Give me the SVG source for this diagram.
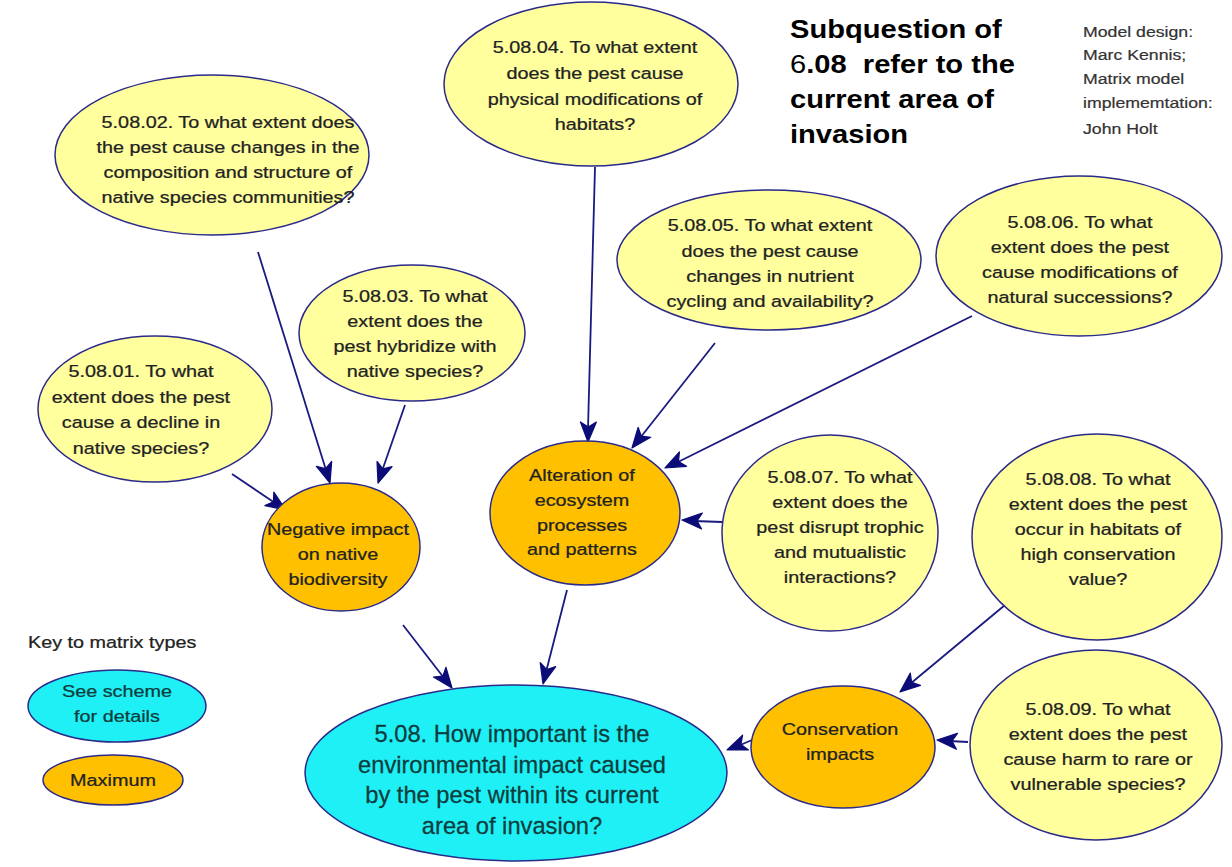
<svg xmlns="http://www.w3.org/2000/svg" width="1232" height="867" viewBox="0 0 1232 867">
<style>
.y{fill:#FFFF9E;stroke:#2a2a8a;stroke-width:1.5}
.o{fill:#FFC000;stroke:#2a2a8a;stroke-width:1.5}
.c{fill:#1FF0F5;stroke:#2a2a8a;stroke-width:1.5}
text{font-family:"Liberation Sans",Arial,sans-serif;font-size:16.5px;fill:#222;stroke:#222;stroke-width:0.25;text-anchor:middle;transform-box:fill-box;transform-origin:center;transform:scaleX(1.2)}
.m text{font-size:23px;fill:#0d3c3c;stroke:#0d3c3c;transform:scaleX(1.03)}
.k{fill:#0d3c3c;stroke:#0d3c3c}
.l{text-anchor:start;transform-origin:left}
.e{stroke:#1a1a80;stroke-width:1.8;fill:none}
polygon.h{fill:#0c0c78;stroke:#0c0c78;stroke-width:1.2;stroke-linejoin:round}
.t{font-size:26px;font-weight:bold;text-anchor:start;fill:#000;stroke:none;transform-origin:left;transform:scaleX(1.12)}
.d{font-size:15px;text-anchor:start;fill:#333;stroke:#333;stroke-width:0.2;transform-origin:left;transform:scaleX(1.18)}
</style>
<rect width="1232" height="867" fill="#fff"/>
<g id="connectors">
<line class="e" x1="258" y1="252" x2="326" y2="470"/>
<line class="e" x1="405" y1="405" x2="382" y2="471"/>
<line class="e" x1="232" y1="474" x2="275" y2="503"/>
<line class="e" x1="595" y1="167" x2="588" y2="429"/>
<line class="e" x1="715" y1="343" x2="640" y2="438"/>
<line class="e" x1="972" y1="316" x2="676" y2="463"/>
<line class="e" x1="722" y1="522" x2="694" y2="521"/>
<line class="e" x1="403" y1="625" x2="444" y2="678"/>
<line class="e" x1="567" y1="590" x2="546" y2="672"/>
<line class="e" x1="1005" y1="605" x2="910" y2="684"/>
<line class="e" x1="968" y1="742" x2="949" y2="741"/>
<line class="e" x1="752" y1="740" x2="738" y2="746"/>
<polygon class="h" fill="#0c0c78" points="330,483 316.4,466.3 325.5,468.7 331.7,461.5"/>
<polygon class="h" fill="#0c0c78" points="378,483 377,461.5 382.9,468.8 392.1,466.7"/>
<polygon class="h" fill="#0c0c78" points="286,510 264.9,505.6 273.5,501.7 273.8,492.2"/>
<polygon class="h" fill="#0c0c78" points="588,442 580.4,421.9 588.3,427 596.4,422.1"/>
<polygon class="h" fill="#0c0c78" points="632,448 638.1,427.3 641.3,436.2 650.7,437.3"/>
<polygon class="h" fill="#0c0c78" points="665,468 679.4,452 678.5,461.4 686.5,466.3"/>
<polygon class="h" fill="#0c0c78" points="682,520 702.4,513 697,520.8 701.6,529"/>
<polygon class="h" fill="#0c0c78" points="452,688 433.4,677.1 442.8,676.2 446,667.3"/>
<polygon class="h" fill="#0c0c78" points="543,684 540.2,662.6 546.7,669.5 555.7,666.6"/>
<polygon class="h" fill="#0c0c78" points="900,692 910.3,673.1 911.6,682.4 920.5,685.4"/>
<polygon class="h" fill="#0c0c78" points="937,740 957.5,733.3 952,741 956.4,749.3"/>
<polygon class="h" fill="#0c0c78" points="727,750 742.6,735.1 740.9,744.4 748.5,750"/>
</g>
<g id="n50802"><ellipse class="y" cx="212" cy="155" rx="157" ry="80"/>
<text x="228" y="128">5.08.02. To what extent does</text><text x="228" y="153">the pest cause changes in the</text><text x="228" y="178">composition and structure of</text><text x="228" y="203">native species communities?</text></g>
<g id="n50804"><ellipse class="y" cx="591" cy="84" rx="147" ry="82"/>
<text x="595" y="53">5.08.04. To what extent</text><text x="595" y="79">does the pest cause</text><text x="595" y="105">physical modifications of</text><text x="595" y="130">habitats?</text></g>
<g id="n50805"><ellipse class="y" cx="769" cy="260" rx="152" ry="70"/>
<text x="770" y="231">5.08.05. To what extent</text><text x="770" y="257">does the pest cause</text><text x="770" y="282">changes in nutrient</text><text x="770" y="307">cycling and availability?</text></g>
<g id="n50806"><ellipse class="y" cx="1079" cy="256" rx="143" ry="80"/>
<text x="1080" y="228">5.08.06. To what</text><text x="1080" y="253">extent does the pest</text><text x="1080" y="278">cause modifications of</text><text x="1080" y="303">natural successions?</text></g>
<g id="n50803"><ellipse class="y" cx="412" cy="333" rx="113" ry="68"/>
<text x="415" y="302">5.08.03. To what</text><text x="415" y="327">extent does the</text><text x="415" y="352">pest hybridize with</text><text x="415" y="377">native species?</text></g>
<g id="n50801"><ellipse class="y" cx="155" cy="409" rx="117" ry="73"/>
<text x="141" y="377">5.08.01. To what</text><text x="141" y="403">extent does the pest</text><text x="141" y="428">cause a decline in</text><text x="141" y="454">native species?</text></g>
<g id="negative"><ellipse class="o" cx="341" cy="547" rx="79" ry="64"/>
<text x="338" y="535">Negative impact</text><text x="338" y="560">on native</text><text x="338" y="585">biodiversity</text></g>
<g id="alteration"><ellipse class="o" cx="585" cy="513" rx="95" ry="72"/>
<text x="582" y="481">Alteration of</text><text x="582" y="506">ecosystem</text><text x="582" y="531">processes</text><text x="582" y="555">and patterns</text></g>
<g id="n50807"><ellipse class="y" cx="830" cy="533" rx="108" ry="98"/>
<text x="840" y="483">5.08.07. To what</text><text x="840" y="508">extent does the</text><text x="840" y="533">pest disrupt trophic</text><text x="840" y="558">and mutualistic</text><text x="840" y="583">interactions?</text></g>
<g id="n50808"><ellipse class="y" cx="1097" cy="537" rx="125" ry="103"/>
<text x="1098" y="485">5.08.08. To what</text><text x="1098" y="510">extent does the pest</text><text x="1098" y="535">occur in habitats of</text><text x="1098" y="560">high conservation</text><text x="1098" y="585">value?</text></g>
<g id="conservation"><ellipse class="o" cx="843" cy="747" rx="92" ry="61"/>
<text x="840" y="735">Conservation</text><text x="840" y="760">impacts</text></g>
<g id="n50809"><ellipse class="y" cx="1096" cy="745" rx="126" ry="95"/>
<text x="1098" y="715">5.08.09. To what</text><text x="1098" y="740">extent does the pest</text><text x="1098" y="765">cause harm to rare or</text><text x="1098" y="790">vulnerable species?</text></g>
<g id="main" class="m"><ellipse class="c" cx="516" cy="773" rx="211" ry="88"/>
<text x="512" y="742">5.08. How important is the</text><text x="512" y="773">environmental impact caused</text><text x="512" y="803">by the pest within its current</text><text x="512" y="834">area of invasion?</text></g>
<g id="key">
<text class="l" x="28" y="648">Key to matrix types</text>
<ellipse class="c" cx="117" cy="706" rx="89" ry="36"/>
<text class="k" x="117" y="697">See scheme</text><text class="k" x="117" y="722">for details</text>
<ellipse class="o" cx="113" cy="780" rx="70" ry="25"/>
<text x="113" y="786">Maximum</text>
</g>
<g id="title">
<text class="t" x="790" y="38">Subquestion of</text>
<text class="t" x="790" y="73"><tspan style="font-weight:normal">6</tspan>.08&#160; refer to the</text>
<text class="t" x="790" y="108">current area of</text>
<text class="t" x="790" y="143">invasion</text>
</g>
<g id="credits">
<text class="d" x="1083" y="37">Model design:</text>
<text class="d" x="1083" y="60">Marc Kennis;</text>
<text class="d" x="1083" y="84">Matrix model</text>
<text class="d" x="1083" y="108">implememtation:</text>
<text class="d" x="1083" y="134">John Holt</text>
</g>
</svg>
